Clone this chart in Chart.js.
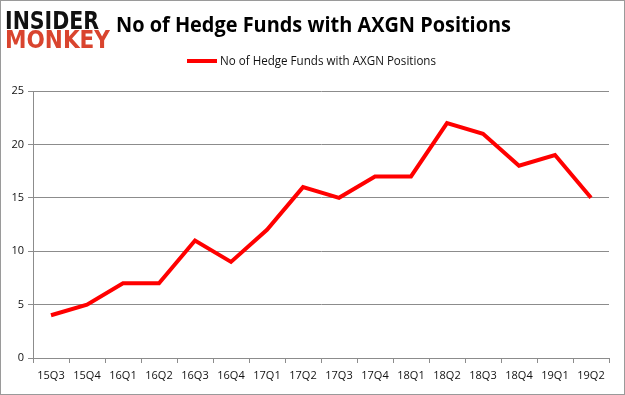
<!DOCTYPE html>
<html>
<head>
<meta charset="utf-8">
<script src="https://cdn.jsdelivr.net/npm/chart.js@4"></script>
<style>
  html, body { margin: 0; padding: 0; background: #fff; }
  #wrap { width: 625px; height: 395px; position: relative; }
</style>
</head>
<body>
<div id="wrap"><canvas id="grafico" width="625" height="395"></canvas></div>
<script>
const quarters = ['15Q3','15Q4','16Q1','16Q2','16Q3','16Q4','17Q1','17Q2','17Q3','17Q4','18Q1','18Q2','18Q3','18Q4','19Q1','19Q2'];
const hedgeFunds = [4, 5, 7, 7, 11, 9, 12, 16, 15, 17, 17, 22, 21, 18, 19, 15];
const yTicks = [0, 5, 10, 15, 20, 25];
const serieNome = 'No of Hedge Funds with AXGN Positions';
const titulo = 'No of Hedge Funds with AXGN Positions';

const cinza = '#8c8c8c';

// texto ajustado a uma largura alvo
function textoLargura(ctx, txt, x, y, larg, fonte, cor) {
  ctx.save();
  ctx.font = fonte;
  ctx.fillStyle = cor;
  ctx.textBaseline = 'alphabetic';
  const w = ctx.measureText(txt).width;
  ctx.translate(x, y);
  ctx.scale(larg / w, 1);
  ctx.fillText(txt, 0, 0);
  ctx.restore();
}

/* ---- cabeçalho: logo, título, legenda, moldura ---- */
const cabecalho = {
  id: 'cabecalho',
  afterDraw(chart) {
    const ctx = chart.ctx;
    // moldura
    ctx.save();
    ctx.strokeStyle = '#9a9a9a';
    ctx.lineWidth = 1;
    ctx.strokeRect(0.5, 0.5, 624, 394);
    ctx.restore();

    // logo
    textoLargura(ctx, 'INSIDER', 5, 29, 94, '900 25px "DejaVu Sans"', '#111');
    textoLargura(ctx, 'MONKEY', 5, 48, 105, '900 25px "DejaVu Sans"', '#d9442e');

    // título
    textoLargura(ctx, titulo, 116, 32, 395, 'bold 22px "Open Sans"', '#000');

    // legenda
    ctx.save();
    ctx.strokeStyle = '#ff0000';
    ctx.lineWidth = 4;
    ctx.beginPath();
    ctx.moveTo(187, 61);
    ctx.lineTo(217, 61);
    ctx.stroke();
    ctx.restore();
    textoLargura(ctx, serieNome, 220, 65, 216, '12px "Open Sans"', '#111');
  }
};

new Chart(document.getElementById('grafico'), {
  type: 'line',
  data: {
    labels: quarters,
    datasets: [{
      label: serieNome,
      data: hedgeFunds,
      borderColor: '#ff0000',
      backgroundColor: '#ff0000',
      borderWidth: 4,
      pointRadius: 0,
      tension: 0,
      fill: false
    }]
  },
  options: {
    responsive: false,
    animation: false,
    layout: { padding: { top: 91, right: 16, left: 0, bottom: 0 } },
    plugins: { legend: { display: false }, title: { display: false }, tooltip: { enabled: false } },
    scales: {
      x: {
        offset: true,
        grid: { display: true, drawOnChartArea: false, drawTicks: true, tickLength: 5, color: cinza, offset: true },
        border: { color: cinza },
        ticks: { color: '#111', font: { family: 'Open Sans', size: 11 }, padding: 6, maxRotation: 0, autoSkip: false },
        afterFit: s => { s.height = 37; }
      },
      y: {
        min: 0, max: 25,
        afterBuildTicks: s => { s.ticks = yTicks.map(v => ({ value: v })); },
        grid: { color: cinza, tickLength: 5 },
        border: { color: cinza },
        ticks: { color: '#111', font: { family: 'Open Sans', size: 11 }, padding: 4 },
        afterFit: s => { s.width = 33; }
      }
    }
  },
  plugins: [cabecalho]
});
</script>
</body>
</html>
